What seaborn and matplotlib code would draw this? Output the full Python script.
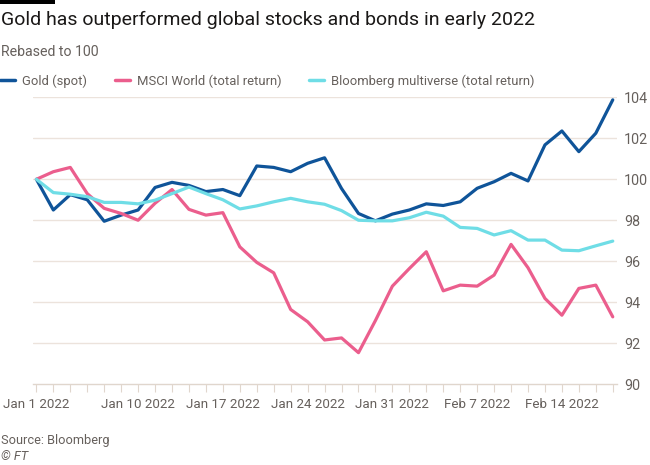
import matplotlib
matplotlib.use("Agg")
import matplotlib.pyplot as plt
from matplotlib.lines import Line2D
from matplotlib.patches import Rectangle
import seaborn as sns
import pandas as pd

# ---- data ----
dates = ["2022-01-01"] + [d.strftime("%Y-%m-%d") for d in pd.bdate_range("2022-01-03", "2022-02-17")]
gold = [100, 98.5, 99.25, 99.0, 97.95, 98.25, 98.5, 99.6, 99.85, 99.7, 99.4, 99.5, 99.2,
        100.65, 100.58, 100.37, 100.78, 101.05, 99.55, 98.33, 97.97, 98.3, 98.5, 98.8,
        98.72, 98.9, 99.56, 99.88, 100.29, 99.92, 101.68, 102.36, 101.35, 102.25, 103.88]
msci = [100, 100.37, 100.58, 99.3, 98.58, 98.33, 98.0, 98.83, 99.5, 98.53, 98.25, 98.37,
        96.7, 95.94, 95.43, 93.64, 93.04, 92.15, 92.25, 91.53, 93.1, 94.78, 95.64, 96.46,
        94.55, 94.83, 94.78, 95.32, 96.82, 95.68, 94.18, 93.36, 94.67, 94.83, 93.28]
bbg = [100, 99.35, 99.27, 99.15, 98.87, 98.87, 98.8, 98.98, 99.3, 99.62, 99.3, 99.0, 98.55,
       98.7, 98.9, 99.07, 98.9, 98.78, 98.47, 98.0, 97.97, 97.97, 98.12, 98.39, 98.2,
       97.65, 97.6, 97.28, 97.49, 97.03, 97.03, 96.54, 96.51, 96.75, 96.98]
series_names = ["Gold (spot)", "MSCI World (total return)", "Bloomberg multiverse (total return)"]
tick_dates = ["2022-01-01", "2022-01-10", "2022-01-17", "2022-01-24", "2022-01-31", "2022-02-07", "2022-02-14"]
tick_labels = ["Jan 1 2022", "Jan 10 2022", "Jan 17 2022", "Jan 24 2022", "Jan 31 2022", "Feb 7 2022", "Feb 14 2022"]
y_ticks = [90, 92, 94, 96, 98, 100, 102, 104]

colors = ["#0f5499", "#eb5e8d", "#6fdde6"]
FONT = "Roboto"
GREY = "#66605c"
GRID = "#ece3dc"

rows = []
for name, vals in zip(series_names, [gold, msci, bbg]):
    for i, (d, v) in enumerate(zip(dates, vals)):
        rows.append({"i": i, "date": d, "value": v, "series": name})
df = pd.DataFrame(rows)

sns.set_theme(style="white")
plt.rcParams["font.family"] = [FONT, "DejaVu Sans"]

W, H = 650, 465
fig = plt.figure(figsize=(W / 100, H / 100), dpi=100)
fig.patch.set_facecolor("white")
ax = fig.add_axes([33 / W, 1 - 384 / H, 584 / W, (384 - 97.4) / H])

for yv in y_ticks[1:]:
    ax.axhline(yv, color=GRID, lw=1, zorder=0)

sns.lineplot(data=df, x="i", y="value", hue="series", hue_order=series_names,
             palette=colors, linewidth=2.3, ax=ax, legend=False, zorder=3)

ax.set_xlim(-0.2, 34.25)
ax.set_ylim(90, 104)
ax.set_xlabel("")
ax.set_ylabel("")
for s in ["top", "left", "right"]:
    ax.spines[s].set_visible(False)
ax.spines["bottom"].set_color("#e0d6cd")
ax.spines["bottom"].set_linewidth(1)

ax.yaxis.tick_right()
ax.set_yticks(y_ticks)
ax.set_yticklabels([str(v) for v in y_ticks])
ax.tick_params(axis="y", length=0, pad=5, labelsize=10.3, labelcolor=GREY)

ax.set_xticks(range(len(dates)), minor=True)
ax.set_xticks([dates.index(d) for d in tick_dates])
ax.set_xticklabels(tick_labels)
ax.tick_params(axis="x", which="both", length=6, width=0.8, color="#e0d6cd",
               labelsize=9.6, labelcolor=GREY, pad=4, bottom=True)

# title block
fig.patches.append(Rectangle((0, 1 - 4 / H), 55 / W, 4 / H, transform=fig.transFigure,
                             facecolor="black", edgecolor="none"))
fig.text(1 / W, 1 - 20 / H, "Gold has outperformed global stocks and bonds in early 2022",
         fontsize=14, color="#1a1817", va="center", ha="left")
fig.text(1 / W, 1 - 52 / H, "Rebased to 100", fontsize=10.2, color=GREY, va="center", ha="left")

handles = [Line2D([0], [0], color=c, lw=2.5) for c in colors]
fig.legend(handles, series_names, loc="center left", bbox_to_anchor=(0, 1 - 81 / H),
           ncol=3, frameon=False, handlelength=1.15, handletextpad=0.55, columnspacing=2.1,
           borderpad=0, borderaxespad=0, fontsize=9.4, labelcolor=GREY)

fig.text(1 / W, 1 - 440 / H, "Source: Bloomberg", fontsize=9.2, color=GREY, va="center", ha="left")
fig.text(1 / W, 1 - 456 / H, "© FT", fontsize=9.2, color=GREY, va="center", ha="left", style="italic")

fig.savefig("out.png", dpi=100, facecolor="white")
